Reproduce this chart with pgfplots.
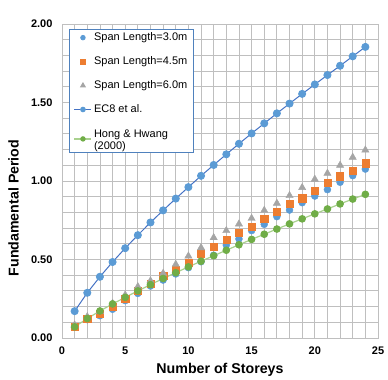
\documentclass[border=0pt]{standalone}
\usepackage{pgfplots}
\pgfplotsset{compat=1.18}
\usepackage{fontspec}
\setmainfont{Liberation Sans}
\definecolor{c1}{HTML}{5B9BD5}
\definecolor{c2}{HTML}{ED7D31}
\definecolor{c3}{HTML}{A5A5A5}
\definecolor{ecline}{HTML}{4472C4}
\definecolor{gr}{HTML}{70AD47}
\definecolor{grline}{HTML}{A9D18E}
\definecolor{gridc}{HTML}{BFBFBF}
\definecolor{legc}{HTML}{4F81BD}
\begin{document}
\begin{tikzpicture}
\begin{axis}[
 scale only axis, width=316bp, height=314bp,
 xmin=0, xmax=25, ymin=0, ymax=2,
 xtick={0,5,...,25}, ytick={0,0.5,1,1.5,2},
 minor x tick num=4, minor y tick num=4,
 grid=both,
 major grid style={gridc, line width=0.8bp},
 minor grid style={gridc, line width=0.8bp},
 axis line style={gridc, line width=0.8bp},
 tick style={draw=none},
 /pgf/number format/assume math mode=true,
 ticklabel style={font=\fontsize{11bp}{12bp}\selectfont\bfseries},
 y tick label style={/pgf/number format/fixed, /pgf/number format/fixed zerofill, /pgf/number format/precision=2},
 yticklabel shift={6bp},
 xticklabel shift={5bp},
 xlabel={Number of Storeys},
 ylabel={Fundamental Period},
 xlabel style={font=\fontsize{14.2bp}{16bp}\selectfont\bfseries, at={(axis description cs:0.5,-0.1019)}, anchor=center},
 ylabel style={font=\fontsize{14.2bp}{16bp}\selectfont\bfseries, at={(axis description cs:-0.1535,0.414)}, anchor=center},
 legend style={at={(axis description cs:0.022,0.984)}, anchor=north west, draw=legc, line width=0.8bp, fill=white,
   font=\fontsize{11bp}{12bp}\selectfont, row sep=10.5bp, inner xsep=4.5bp, inner ysep=1.5bp},
 legend cell align=left,
 legend image post style={every mark/.append style={scale=0.65}},
]
\addplot[only marks, mark=*, mark size=3.5bp, mark options={fill=c1, draw=c1}] coordinates {
(1,0.068) (2,0.117) (3,0.142) (4,0.183) (5,0.238) (6,0.284) (7,0.331) (8,0.369) (9,0.408) (10,0.448) (11,0.486) (12,0.527) (13,0.592) (14,0.631) (15,0.684) (16,0.724) (17,0.773) (18,0.815) (19,0.862) (20,0.904) (21,0.945) (22,0.992) (23,1.034) (24,1.076)};
\addlegendentry{Span Length=3.0m}
\addplot[only marks, mark=square*, mark size=3.6bp, mark options={fill=c2, draw=c2}] coordinates {
(1,0.074) (2,0.125) (3,0.157) (4,0.200) (5,0.248) (6,0.301) (7,0.348) (8,0.395) (9,0.437) (10,0.482) (11,0.539) (12,0.584) (13,0.628) (14,0.673) (15,0.711) (16,0.758) (17,0.807) (18,0.854) (19,0.890) (20,0.936) (21,0.987) (22,1.030) (23,1.068) (24,1.113)};
\addlegendentry{Span Length=4.5m}
\addplot[only marks, mark=triangle*, mark size=4.2bp, mark options={fill=c3, draw=c3}] coordinates {
(1,0.083) (2,0.136) (3,0.168) (4,0.221) (5,0.274) (6,0.327) (7,0.364) (8,0.412) (9,0.469) (10,0.522) (11,0.575) (12,0.639) (13,0.684) (14,0.726) (15,0.762) (16,0.813) (17,0.858) (18,0.907) (19,0.958) (20,1.011) (21,1.049) (22,1.100) (23,1.151) (24,1.197)};
\addlegendentry{Span Length=6.0m}
\addplot[ecline, line width=1bp, mark=*, mark size=3.5bp, mark options={fill=c1, draw=c1}] coordinates {
(1,0.171) (2,0.288) (3,0.390) (4,0.484) (5,0.572) (6,0.655) (7,0.736) (8,0.813) (9,0.888) (10,0.961) (11,1.033) (12,1.102) (13,1.170) (14,1.237) (15,1.303) (16,1.367) (17,1.431) (18,1.493) (19,1.555) (20,1.615) (21,1.675) (22,1.734) (23,1.794) (24,1.854)};
\addlegendentry{EC8 et al.}
\addplot[grline, line width=1.2bp, mark=*, mark size=3.2bp, mark options={fill=gr, draw=gr}] coordinates {
(1,0.071) (2,0.124) (3,0.172) (4,0.217) (5,0.259) (6,0.300) (7,0.340) (8,0.379) (9,0.416) (10,0.453) (11,0.489) (12,0.524) (13,0.559) (14,0.594) (15,0.628) (16,0.661) (17,0.694) (18,0.727) (19,0.759) (20,0.791) (21,0.822) (22,0.854) (23,0.885) (24,0.915)};
\addlegendentry[text depth=12bp]{\begin{tabular}[t]{@{}l@{}}Hong \& Hwang\\(2000)\end{tabular}}
\coordinate (bbsw) at (rel axis cs:0,0);
\coordinate (bbne) at (rel axis cs:1,1);
\end{axis}
\path ([xshift=-62bp,yshift=-42bp]bbsw) rectangle ([xshift=10bp,yshift=24bp]bbne);
\end{tikzpicture}
\end{document}
